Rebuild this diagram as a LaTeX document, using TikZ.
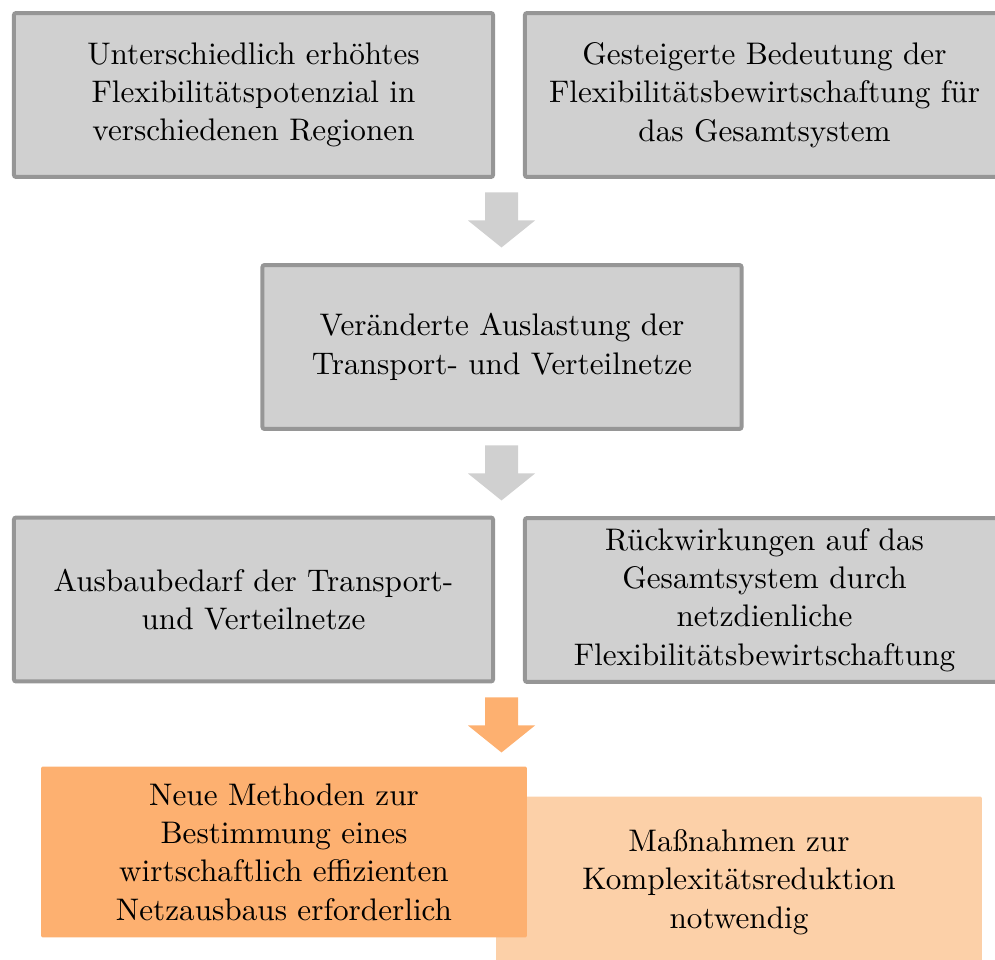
\documentclass[tikz,border=0pt]{standalone}
\definecolor{boxgray}{RGB}{208,208,208}
\definecolor{linegray}{RGB}{150,150,150}
\definecolor{darkorange}{RGB}{253,176,112}
\definecolor{lightorange}{RGB}{252,208,168}
\tikzset{
  graybox/.style={draw=linegray, fill=boxgray, line width=1.4pt, rounded corners=0.7pt,
    minimum width=168.1pt, minimum height=57.5pt, align=center, inner sep=0pt},
  orangebox/.style={fill=#1, rounded corners=0.7pt,
    minimum width=170.5pt, minimum height=60pt, align=center, inner sep=0pt},
}
\begin{document}
\begin{tikzpicture}[x=0.3509pt,y=-0.3509pt,font={\fontsize{10.95}{13.44}\selectfont}]
  \useasboundingbox (0,0) rectangle (995,960);

  \node[graybox] (potenzial) at (253.5,95) {Unterschiedlich erhöhtes\\Flexibilitätspotenzial in\\verschiedenen Regionen};
  \node[graybox] (bedeutung) at (764.5,95) {Gesteigerte Bedeutung der\\Flexibilitätsbewirtschaftung für\\das Gesamtsystem};
  \node[graybox] (auslastung) at (502,347) {Veränderte Auslastung der\\Transport- und Verteilnetze};
  \node[graybox] (ausbau) at (253.5,599.5) {Ausbaubedarf der Transport-\\und Verteilnetze};
  \node[graybox] (rueckwirkung) at (764.5,600) {Rückwirkungen auf das\\Gesamtsystem durch\\netzdienliche\\Flexibilitätsbewirtschaftung};

  \node[orangebox=lightorange] (massnahmen) at (739,882) {Maßnahmen zur\\Komplexitätsreduktion\\notwendig};
  \node[orangebox=darkorange] (methoden) at (284,852) {Neue Methoden zur\\Bestimmung eines\\wirtschaftlich effizienten\\Netzausbaus erforderlich};

  % Blockpfeile
  \foreach \y/\col in {220/boxgray, 473/boxgray, 725/darkorange}
    \fill[\col, shift={(501.5,\y)}] (-16.5,-27.5) -- (16.5,-27.5) -- (16.5,0.5) -- (33.5,0.5)
      -- (0,27.5) -- (-33.5,0.5) -- (-16.5,0.5) -- cycle;
\end{tikzpicture}
\end{document}
